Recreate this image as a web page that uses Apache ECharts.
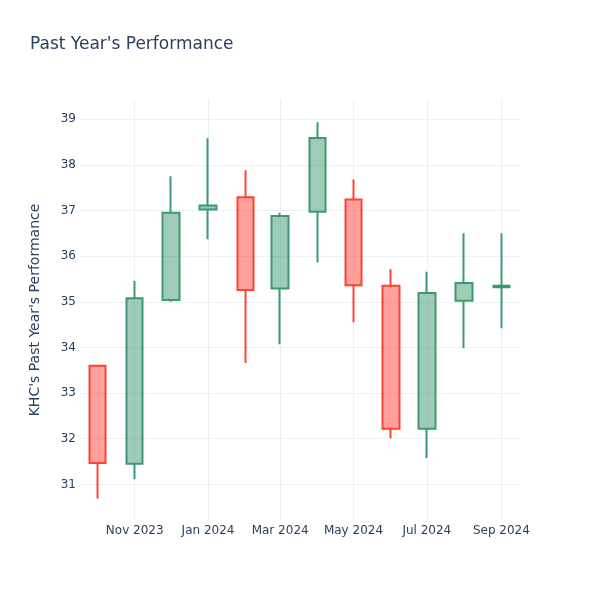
<!DOCTYPE html>
<html>
<head>
<meta charset="utf-8">
<script src="https://cdn.jsdelivr.net/npm/echarts@6/dist/echarts.min.js"></script>
<style>html,body{margin:0;padding:0;background:#fff}#c{width:600px;height:600px}</style>
</head>
<body>
<div id="c"></div>
<script>
var months = ['2023-10','2023-11','2023-12','2024-01','2024-02','2024-03','2024-04','2024-05','2024-06','2024-07','2024-08','2024-09'];
var opens  = [33.60, 31.45, 35.04, 37.02, 37.29, 35.29, 36.97, 37.24, 35.35, 32.22, 35.02, 35.32];
var closes = [31.47, 35.08, 36.95, 37.11, 35.26, 36.88, 38.59, 35.36, 32.22, 35.19, 35.41, 35.35];
var lows   = [30.69, 31.11, 35.00, 36.37, 33.66, 34.07, 35.86, 34.55, 32.01, 31.58, 33.99, 34.42];
var highs  = [33.60, 35.46, 37.75, 38.58, 37.88, 36.95, 38.93, 37.68, 35.71, 35.66, 36.50, 36.50];
var xTickMonths = ['2023-11','2024-01','2024-03','2024-05','2024-07','2024-09'];
var yTicks = [31, 32, 33, 34, 35, 36, 37, 38, 39];
var monthNames = ['Jan','Feb','Mar','Apr','May','Jun','Jul','Aug','Sep','Oct','Nov','Dec'];

function ts(m, day) {
  var p = m.split('-');
  return Date.UTC(+p[0], +p[1] - 1, day || 1);
}
var data = months.map(function (m, i) {
  return [ts(m), opens[i], closes[i], lows[i], highs[i]];
});
var xTicks = xTickMonths.map(function (m) { return ts(m); });

var font = 'DejaVu Sans';
var txt = '#2a3f5f';
var chart = echarts.init(document.getElementById('c'));
chart.setOption({
  animation: false,
  backgroundColor: '#fff',
  title: {
    text: "Past Year's Performance",
    left: 30, top: 36, padding: 0,
    textStyle: { fontFamily: font, fontSize: 17, fontWeight: 'normal', color: txt }
  },
  grid: { left: 80, right: 80, top: 100, bottom: 80 },
  xAxis: {
    type: 'value',
    min: Date.UTC(2023, 8, 16, 12),
    max: Date.UTC(2024, 8, 16, 12),
    axisLine: { show: false },
    axisTick: { show: false, customValues: xTicks },
    splitLine: { show: true, lineStyle: { color: '#ebf0f8', width: 1 } },
    axisLabel: {
      customValues: xTicks,
      margin: 5,
      fontFamily: font, fontSize: 12, color: txt,
      formatter: function (v) {
        var d = new Date(v);
        return monthNames[d.getUTCMonth()] + ' ' + d.getUTCFullYear();
      }
    }
  },
  yAxis: {
    type: 'value',
    min: 30.22, max: 39.42,
    name: "KHC's Past Year's Performance",
    nameLocation: 'middle',
    nameGap: 38,
    nameTextStyle: { fontFamily: font, fontSize: 14, color: txt },
    axisLine: { show: false },
    axisTick: { show: false, customValues: yTicks },
    splitLine: { show: true, lineStyle: { color: '#ebf0f8', width: 1 } },
    axisLabel: {
      customValues: yTicks,
      margin: 4,
      fontFamily: font, fontSize: 12, color: txt
    }
  },
  series: [{
    type: 'candlestick',
    data: data,
    encode: { x: 0, y: [1, 2, 3, 4] },
    barWidth: 17,
    itemStyle: {
      color: 'rgba(61,153,112,0.5)',
      color0: 'rgba(255,65,54,0.5)',
      borderColor: '#3D9970',
      borderColor0: '#FF4136',
      borderWidth: 2
    }
  }]
});
</script>
</body>
</html>
